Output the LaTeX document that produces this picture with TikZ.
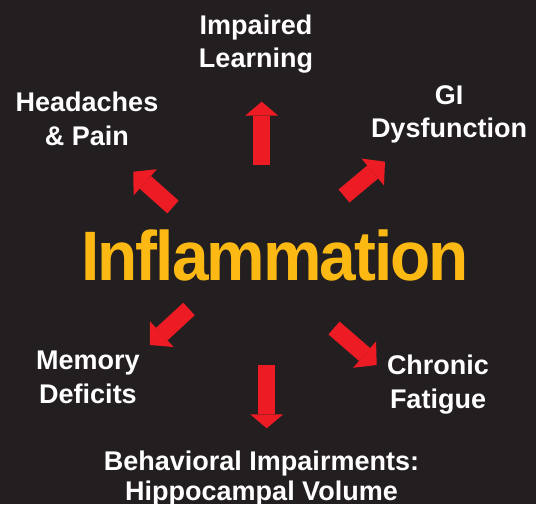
\documentclass[tikz,border=0pt]{standalone}
\usepackage{fontspec}
\setmainfont{Liberation Sans}
\newfontfamily\tightfont[LetterSpace=-3]{Liberation Sans}
\usetikzlibrary{arrows.meta}
\definecolor{bgdark}{RGB}{35,31,32}
\definecolor{infyellow}{RGB}{253,185,19}
\definecolor{arrred}{RGB}{237,28,36}
\begin{document}
\begin{tikzpicture}[x=1pt,y=-1pt,
  lbl/.style={text=white,font=\fontsize{27}{33}\selectfont\bfseries,inner sep=0pt,anchor=base},
  bigarrow/.style={draw=arrred,line width=17pt,line cap=butt,
    -{Triangle[width=33pt,length=14pt,line width=0pt]}},
  diagarrow/.style={draw=arrred,line width=17pt,line cap=butt,
    -{Triangle[width=35pt,length=16pt,line width=0pt]}}]
\fill[bgdark] (0,0) rectangle (536,504);
\useasboundingbox (0,0) rectangle (536,504);

% centre word
\node[text=infyellow,font=\tightfont\fontsize{70}{80}\selectfont\bfseries,inner sep=0pt,anchor=base]
  (infl) at (275,280.5) {\scalebox{0.94}[1]{Inflammation}};

% labels
\node[lbl] (learnA) at (256,34) {Impaired};
\node[lbl] (learnB) at (256,67) {Learning};
\node[lbl] (headA) at (87,111) {Headaches};
\node[lbl] (headB) at (87,145) {\& Pain};
\node[lbl] (giA) at (449,104) {GI};
\node[lbl] (giB) at (449,137) {Dysfunction};
\node[lbl] (memA) at (88,369) {Memory};
\node[lbl] (memB) at (88,403) {Deficits};
\node[lbl] (chrA) at (438,374) {Chronic};
\node[lbl] (chrB) at (438,408) {Fatigue};
\node[lbl] (behA) at (261.5,470) {Behavioral Impairments:};
\node[lbl] (behB) at (261.5,500) {Hippocampal Volume};

% arrow end points
\coordinate (upT) at (261.7,165);   \coordinate (upH) at (261.7,101.7);
\coordinate (dnT) at (266.7,365);   \coordinate (dnH) at (266.7,428.3);
\coordinate (hdT) at (173,207);     \coordinate (hdH) at (133.3,171.7);
\coordinate (giT) at (344,196);     \coordinate (giH) at (385,161.7);
\coordinate (mmT) at (189,309);     \coordinate (mmH) at (150,345);
\coordinate (chT) at (334,328);     \coordinate (chH) at (376.7,365);

\draw[bigarrow] (upT) -- (upH);
\draw[bigarrow] (dnT) -- (dnH);
\draw[diagarrow] (hdT) -- (hdH);
\draw[diagarrow] (giT) -- (giH);
\draw[diagarrow] (mmT) -- (mmH);
\draw[diagarrow] (chT) -- (chH);
\end{tikzpicture}
\end{document}
